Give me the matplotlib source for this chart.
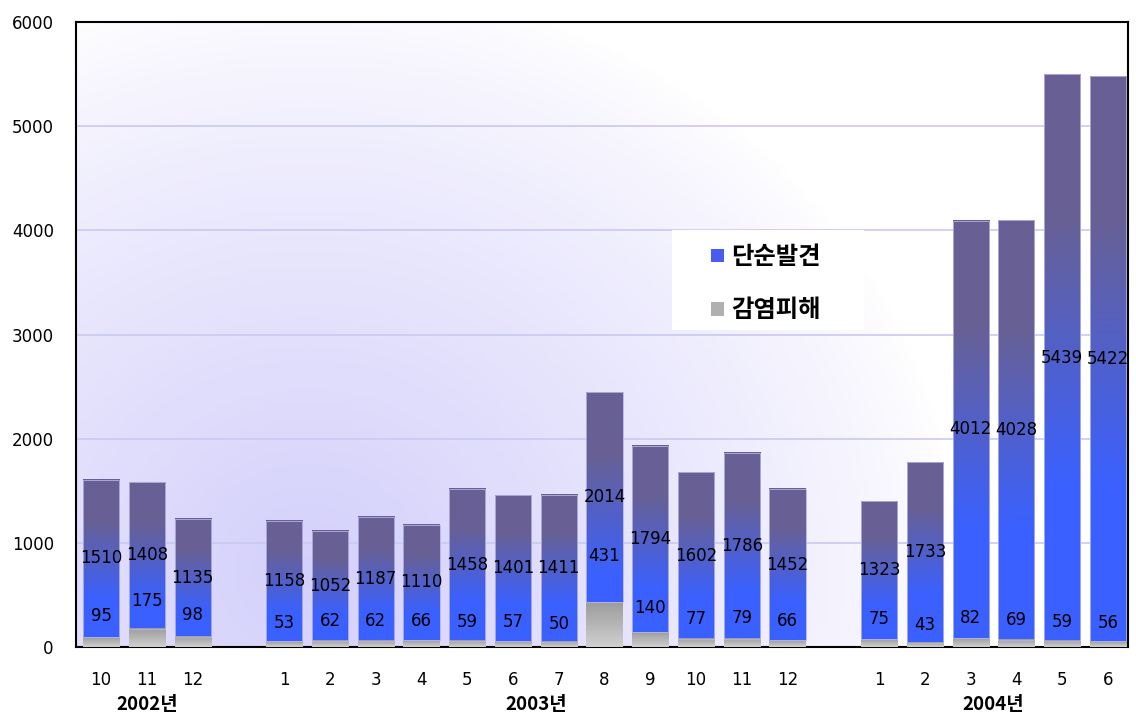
import numpy as np
import matplotlib.pyplot as plt
from matplotlib.colors import to_rgb
from matplotlib.patches import Patch, Rectangle

plt.rcParams['font.family'] = ['DejaVu Sans', 'Noto Sans CJK KR']
KR = ['Noto Sans CJK KR', 'DejaVu Sans']

# 월별 집계 (감염피해 + 단순발견)
years = ['2002년', '2003년', '2004년']
months = [
    ['10', '11', '12'],
    ['1', '2', '3', '4', '5', '6', '7', '8', '9', '10', '11', '12'],
    ['1', '2', '3', '4', '5', '6'],
]
infected = [
    [95, 175, 98],
    [53, 62, 62, 66, 59, 57, 50, 431, 140, 77, 79, 66],
    [75, 43, 82, 69, 59, 56],
]
found = [
    [1510, 1408, 1135],
    [1158, 1052, 1187, 1110, 1458, 1401, 1411, 2014, 1794, 1602, 1786, 1452],
    [1323, 1733, 4012, 4028, 5439, 5422],
]
yticks = [0, 1000, 2000, 3000, 4000, 5000, 6000]

# x 위치: 연도 사이에 한 칸씩 띄움
xpos, xlab, inf_all, fnd_all, year_mid = [], [], [], [], []
cur = 0
for g in range(len(years)):
    grp = []
    for m, a, b in zip(months[g], infected[g], found[g]):
        xpos.append(cur); xlab.append(m); inf_all.append(a); fnd_all.append(b)
        grp.append(cur)
        cur += 1
    year_mid.append(np.mean(grp))
    cur += 1
xpos = np.array(xpos, float)
inf_all = np.array(inf_all, float)
fnd_all = np.array(fnd_all, float)

fig = plt.figure(figsize=(11.36, 7.13), dpi=100)
ax = fig.add_axes([76 / 1136, 66 / 713, (1128 - 76) / 1136, (691 - 66) / 713])
xlim = (-0.55, xpos[-1] + 0.44)
ylim = (0, 6000)

# 배경: 왼쪽 아래에서 퍼지는 연보라 그라데이션
gx, gy = np.meshgrid(np.linspace(0, 1, 300), np.linspace(0, 1, 200))
d = np.sqrt(((gx - 0.22) / 0.62) ** 2 + ((gy - 0.12) / 0.95) ** 2)
t = np.clip(1 - d, 0, 1) ** 0.8
lav = np.array(to_rgb('#d4d0fb'))
bg = np.ones((200, 300, 3)) * (1 - t[..., None]) + lav * t[..., None]
ax.imshow(bg, extent=[0, 1, 0, 1], transform=ax.transAxes, origin='lower',
          aspect='auto', zorder=0)

for v in yticks[1:-1]:
    ax.axhline(v, color='#c9c9f2', lw=1.2, zorder=1)

w = 0.79
blue = np.array(to_rgb('#3a60ff'))
purple = np.array(to_rgb('#686094'))
gray_top = np.array(to_rgb('#9c9c9c'))
gray_bot = np.array(to_rgb('#d0d0d0'))

bars_inf = ax.bar(xpos, inf_all, width=w, color='none', zorder=2)
bars_fnd = ax.bar(xpos, fnd_all, width=w, bottom=inf_all, color='none',
                  edgecolor='#b4b3e4', linewidth=0.6, zorder=4)

n = 256
s = np.linspace(0, 1, n)[:, None]
mix = np.clip((s - 0.28) / 0.47, 0, 1)
grad_blue = (blue * (1 - mix) + purple * mix)[:, None, :]
grad_gray = (gray_bot * (1 - s) + gray_top * s)[:, None, :]

for p in bars_fnd:
    x0, y0 = p.get_x(), p.get_y()
    x1, y1 = x0 + p.get_width(), y0 + p.get_height()
    ax.imshow(grad_blue, extent=[x0, x1, 0, y1], origin='lower',
              aspect='auto', zorder=2, interpolation='bilinear')
for p in bars_inf:
    x0, y0 = p.get_x(), p.get_y()
    x1, y1 = x0 + p.get_width(), y0 + p.get_height()
    ax.imshow(grad_gray, extent=[x0, x1, y0, y1], origin='lower',
              aspect='auto', zorder=3, interpolation='bilinear')

# 값 표시
for x, a, b in zip(xpos, inf_all, fnd_all):
    ax.text(x, a + b / 2, f'{int(b)}', ha='center', va='center',
            fontsize=12, color='black', zorder=5)
    ax.text(x, 1.7 * a + 140, f'{int(a)}', ha='center', va='center',
            fontsize=12, color='black', zorder=5)

ax.set_xlim(xlim)
ax.set_ylim(ylim)
ax.set_yticks(yticks)
ax.set_yticklabels([str(v) for v in yticks], fontsize=12)
ax.set_xticks(xpos)
ax.set_xticklabels(xlab, fontsize=12)
ax.tick_params(axis='both', length=0)
ax.tick_params(axis='y', pad=16)
ax.tick_params(axis='x', pad=17)
for sp in ax.spines.values():
    sp.set_color('black')
    sp.set_linewidth(1.5)

for ym, yr in zip(year_mid, years):
    ax.text(ym, -0.092, yr, transform=ax.get_xaxis_transform(), ha='center',
            va='center', fontsize=13.5, fontweight='bold', family=KR)

# 범례: 흰 상자 위에 테두리 없이
ax.add_patch(Rectangle((0.5665, 0.507), 0.1825, 0.16, transform=ax.transAxes,
                       facecolor='white', edgecolor='none', zorder=6))
handles = [Patch(facecolor='#4a5cf0', edgecolor='none'),
           Patch(facecolor='#b0b0b0', edgecolor='none')]
leg = ax.legend(handles, ['단순발견', '감염피해'], loc='upper left',
                bbox_to_anchor=(0.604, 0.643), frameon=False,
                handlelength=0.5, handleheight=0.5, handletextpad=0.3,
                labelspacing=1.2, borderpad=0, borderaxespad=0,
                prop={'size': 17.5, 'weight': 'bold', 'family': KR})
leg.set_zorder(7)

fig.savefig('out.png', dpi=100)
